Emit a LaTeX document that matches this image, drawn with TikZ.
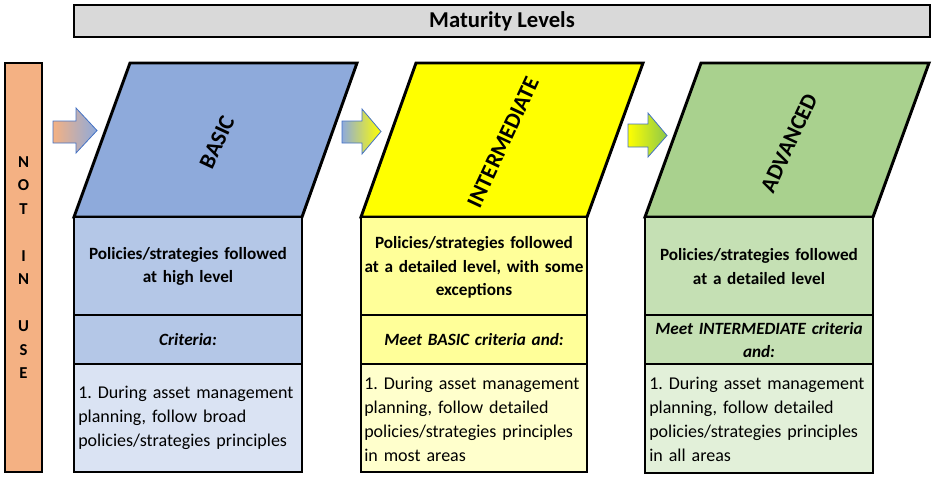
\documentclass[tikz,border=0pt]{standalone}
\usepackage{fontspec}
\setmainfont{Carlito}
\frenchspacing

\definecolor{titlegray}{HTML}{D9D9D9}
\definecolor{notuse}{HTML}{F4B183}
\definecolor{basicdark}{HTML}{8EAADB}
\definecolor{basicmid}{HTML}{B4C7E7}
\definecolor{basiclight}{HTML}{DAE3F3}
\definecolor{interdark}{HTML}{FFFF00}
\definecolor{intermid}{HTML}{FFFF99}
\definecolor{interlight}{HTML}{FFFFCC}
\definecolor{advdark}{HTML}{A9D18E}
\definecolor{advmid}{HTML}{C5E0B4}
\definecolor{advlight}{HTML}{E2F0D9}
\definecolor{arrowline}{HTML}{4472C4}
\definecolor{arrowgreen}{HTML}{8CC84B}

\tikzset{
  box/.style={line width=2.2pt, line join=miter},
  blockarrow/.style={draw=arrowline, line width=0.6pt},
  lvllabel/.style={font=\bfseries\fontsize{17}{20}\selectfont, rotate=65, inner sep=0pt},
  headtext/.style={font=\bfseries\fontsize{12.9}{17.6}\selectfont, align=center, text width=180pt, inner sep=0pt},
  crittext/.style={font=\bfseries\itshape\fontsize{12.9}{17.6}\selectfont, align=center, text width=180pt, inner sep=0pt},
  bodytext/.style={font=\fontsize{13.5}{18}\selectfont, align=left, text width=168pt, inner sep=0pt, anchor=west}
}

\begin{document}
\begin{tikzpicture}[x=0.75pt, y=-0.75pt]

        \useasboundingbox (0,0) rectangle (936,480);

        %Title
        \draw [box, fill=titlegray] (74,5) rectangle (930,37);
        \node (title) at (502,21) {\bfseries\fontsize{17}{20}\selectfont Maturity Levels};

        %Not in use
        \draw [box, fill=notuse] (5,63) rectangle (42,472);
        \node (notinuse) [align=center, font=\bfseries\fontsize{12.5}{17.6}\selectfont] at (23.5,267.5)
          {N\\O\\T\\~\\I\\N\\~\\U\\S\\E};

        %Arrows
        \shadedraw [blockarrow, left color=notuse, right color=basicdark]
          (53,121) -- (76,121) -- (76,108) -- (97,130.5) -- (76,153) -- (76,143) -- (53,143) -- cycle;
        \shadedraw [blockarrow, left color=basicdark, right color=interdark]
          (342,121) -- (362,121) -- (362,109) -- (381,131.5) -- (362,154) -- (362,143) -- (342,143) -- cycle;
        \shadedraw [blockarrow, left color=interdark, right color=arrowgreen]
          (628,124) -- (648,124) -- (648,113) -- (667,135.5) -- (648,157) -- (648,147) -- (628,147) -- cycle;

        %Basic
        \draw [box, fill=basicdark] (130,63) -- (357,63) -- (302,217) -- (74,217) -- cycle;
        \node (basic) [lvllabel] at (217,142) {BASIC};
        \draw [box, fill=basicmid]   (74,217) rectangle (302,315);
        \draw [box, fill=basicmid]   (74,315) rectangle (302,364);
        \draw [box, fill=basiclight] (74,364) rectangle (302,472);
        \node (basictop) [headtext] at (188,266.5) {Policies/strategies followed\\at high level};
        \node (basiccrit) [crittext] at (188,340) {Criteria:};
        \node (basicbody) [bodytext] at (78,418)
          {1. During asset management\\planning, follow broad\\policies/strategies principles};

        %Intermediate
        \draw [box, fill=interdark] (416,63) -- (643,63) -- (587,217) -- (361,217) -- cycle;
        \node (inter) [lvllabel] at (503,142) {INTERMEDIATE};
        \draw [box, fill=intermid]   (361,217) rectangle (587,315);
        \draw [box, fill=intermid]   (361,315) rectangle (587,364);
        \draw [box, fill=interlight] (361,364) rectangle (587,472);
        \node (intertop) [headtext] at (474,267.5) {Policies/strategies followed\\at a detailed level, with some\\exceptions};
        \node (intercrit) [crittext] at (474,340) {Meet BASIC criteria and:};
        \node (interbody) [bodytext] at (364,419)
          {1. During asset management\\planning, follow detailed\\policies/strategies principles\\in most areas};

        %Advanced
        \draw [box, fill=advdark] (701,63) -- (929,63) -- (873,217) -- (645,217) -- cycle;
        \node (adv) [lvllabel] at (789,143) {ADVANCED};
        \draw [box, fill=advmid]   (645,217) rectangle (873,315);
        \draw [box, fill=advmid]   (645,315) rectangle (873,364);
        \draw [box, fill=advlight] (645,364) rectangle (873,473);
        \node (advtop) [headtext] at (759,266.5) {Policies/strategies followed\\at a detailed level};
        \node (advcrit) [crittext] at (759,340) {Meet INTERMEDIATE criteria\\and:};
        \node (advbody) [bodytext] at (649,419)
          {1. During asset management\\planning, follow detailed\\policies/strategies principles\\in all areas};

\end{tikzpicture}
\end{document}
